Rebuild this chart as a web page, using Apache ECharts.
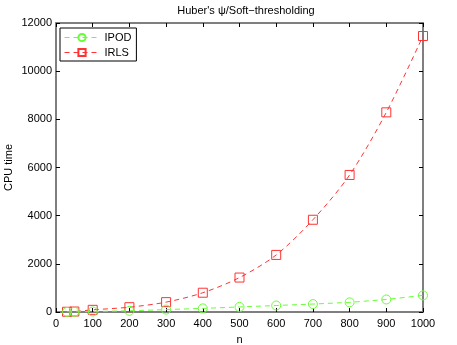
<!DOCTYPE html>
<html lang="en">
  <head>
    <meta charset="UTF-8" />
    <title>cpu time</title>
    <style>
      body {
        margin: 0;
        background: #fff;
      }
      main {
        width: 457px;
        height: 345px;
      }
    </style>
  </head>
  <body>
    <main></main>
    <script src="https://cdn.jsdelivr.net/npm/echarts@6/dist/echarts.min.js"></script>
    <script>
      // problem sizes and timings
      const nValues = [30, 50, 100, 200, 300, 400, 500, 600, 700, 800, 900, 1000];
      const ipodTime = [3, 5, 20, 50, 100, 150, 210, 270, 330, 400, 520, 690];
      const irlsTime = [10, 20, 90, 200, 410, 800, 1430, 2370, 3830, 5690, 8290, 11460];
      const xTicks = [0, 100, 200, 300, 400, 500, 600, 700, 800, 900, 1000];
      const yTicks = [0, 2000, 4000, 6000, 8000, 10000, 12000];

      const font = "Liberation Sans, Arial, sans-serif";
      const green = "#66ff33";
      const red = "#ff3333";

      const chart = echarts.init(document.querySelector("main"));

      const frame = { show: true, onZero: false, lineStyle: { color: "#7f7f7f", width: 2 } };
      const tick = { show: true, inside: true, length: 4, lineStyle: { color: "#000" } };
      const plain = (v) => String(v);

      const option = {
        animation: false,
        title: {
          text: "Huber's \u03c8/Soft\u2212thresholding",
          left: 241,
          textAlign: "center",
          top: 0,
          textStyle: { fontFamily: font, fontSize: 11, fontWeight: "normal", color: "#000" },
        },
        grid: {
          left: 56,
          right: 34,
          top: 23,
          bottom: 33,
          outerBoundsMode: "none",
          containLabel: false,
        },
        legend: {
          left: 60,
          top: 28,
          orient: "vertical",
          itemWidth: 35,
          itemHeight: 9,
          itemGap: 4,
          padding: [4, 5, 3, 4],
          borderColor: "#000",
          borderWidth: 1,
          textStyle: { fontFamily: font, fontSize: 11, color: "#000" },
          lineStyle: { width: 1 },
          data: ["IPOD", "IRLS"],
        },
        xAxis: [
          {
            type: "value",
            min: xTicks[0],
            max: xTicks[xTicks.length - 1],
            interval: 100,
            name: "n",
            nameLocation: "middle",
            nameGap: 22,
            nameTextStyle: { fontFamily: font, fontSize: 11, color: "#000" },
            axisLine: frame,
            axisTick: tick,
            axisLabel: { fontFamily: font, fontSize: 11, color: "#000", margin: 6, formatter: plain },
            splitLine: { show: false },
          },
          {
            type: "value",
            position: "top",
            min: xTicks[0],
            max: xTicks[xTicks.length - 1],
            interval: 100,
            axisLine: frame,
            axisTick: tick,
            axisLabel: { show: false },
            splitLine: { show: false },
          },
        ],
        yAxis: [
          {
            type: "value",
            min: yTicks[0],
            max: yTicks[yTicks.length - 1],
            interval: 2000,
            name: "CPU time",
            nameLocation: "middle",
            nameGap: 42,
            nameMoveOverlap: false,
            nameTextStyle: { fontFamily: font, fontSize: 11, color: "#000" },
            axisLine: frame,
            axisTick: tick,
            axisLabel: { fontFamily: font, fontSize: 11, color: "#000", margin: 4, formatter: plain },
            splitLine: { show: false },
          },
          {
            type: "value",
            position: "right",
            min: yTicks[0],
            max: yTicks[yTicks.length - 1],
            interval: 2000,
            axisLine: frame,
            axisTick: tick,
            axisLabel: { show: false },
            splitLine: { show: false },
          },
        ],
        series: [
          {
            name: "IPOD",
            type: "line",
            data: nValues.map((n, i) => [n, ipodTime[i]]),
            symbol: "circle",
            symbolSize: 9,
            z: 3,
            lineStyle: { color: green, width: 1, type: [5, 4] },
            itemStyle: { color: "transparent", borderColor: green, borderWidth: 1 },
          },
          {
            name: "IRLS",
            type: "line",
            data: nValues.map((n, i) => [n, irlsTime[i]]),
            symbol: "rect",
            symbolSize: 9,
            smooth: 0.3,
            z: 2,
            lineStyle: { color: red, width: 1, type: [5, 4] },
            itemStyle: { color: "transparent", borderColor: red, borderWidth: 1 },
          },
        ],
      };
      chart.setOption(option);
    </script>
  </body>
</html>
